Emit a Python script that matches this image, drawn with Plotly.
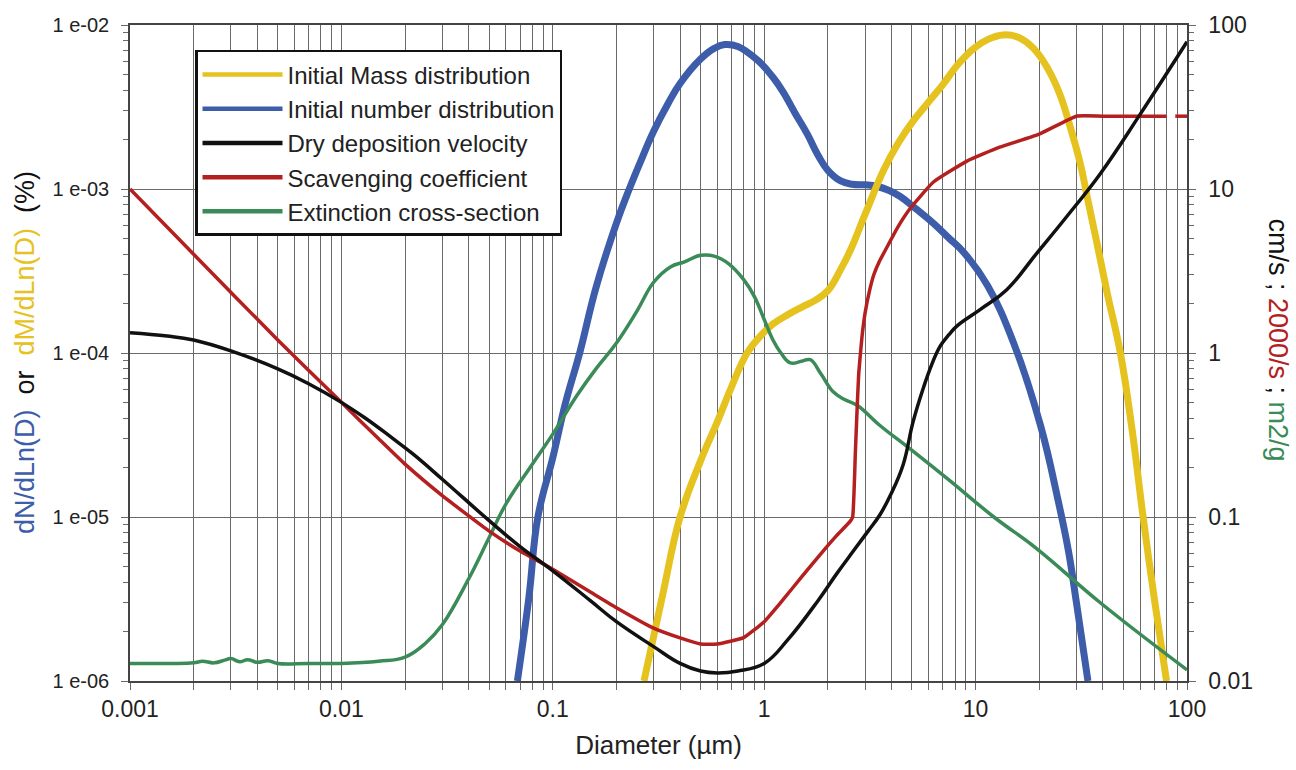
import plotly.graph_objects as go

# ---------------- data ----------------
# Left axis: dN/dLn(D), dM/dLn(D) (%)
num_x = [0.068, 0.077, 0.085, 0.1, 0.115, 0.134, 0.16, 0.2, 0.23, 0.26, 0.3, 0.35, 0.4, 0.5, 0.58, 0.65, 0.75,
         0.93, 1.1, 1.23, 1.4, 1.6, 1.8, 2.0, 2.3, 2.6, 3.0, 3.4, 3.9, 4.4, 5.2, 6.3, 7.5, 8.8, 11.4,
         15.1, 20.3, 24.6, 27.5, 30.0, 34.0]
num_y = [1e-6, 3.2e-6, 1e-5, 2.3e-5, 5e-5, 1e-4, 2.5e-4, 6.2e-4, 1.0e-3, 1.47e-3, 2.25e-3, 3.3e-3, 4.4e-3, 6.2e-3, 7.2e-3, 7.6e-3, 7.4e-3,
         6.1e-3, 4.8e-3, 3.9e-3, 2.9e-3, 2.16e-3, 1.6e-3, 1.3e-3, 1.12e-3, 1.07e-3, 1.06e-3, 1.04e-3, 9.8e-4, 9.0e-4, 7.6e-4, 6.2e-4, 5.0e-4, 4.1e-4, 2.57e-4,
         1.16e-4, 3.6e-5, 1.25e-5, 6.2e-6, 3.0e-6, 1e-6]

mass_x = [0.27, 0.33, 0.4, 0.5, 0.6, 0.7, 0.83, 0.95, 1.1, 1.3, 1.5, 1.75, 2.0, 2.29, 2.55, 3.0, 3.67, 4.3, 5.07,
          6.0, 7.0, 8.3, 9.8, 11.5, 13.5, 16.0, 18.8, 22.0, 25.0, 28.0, 31.3, 34.0, 37.6, 42.0, 48.4, 55.0, 62.0, 70.0, 80.0]
mass_y = [1e-6, 3.3e-6, 1e-5, 2.2e-5, 3.8e-5, 6.2e-5, 1e-4, 1.25e-4, 1.5e-4, 1.72e-4, 1.9e-4, 2.1e-4, 2.4e-4, 3.2e-4, 4.2e-4, 7.0e-4, 1.3e-3, 1.9e-3, 2.6e-3,
          3.4e-3, 4.33e-3, 5.8e-3, 7.2e-3, 8.2e-3, 8.7e-3, 8.4e-3, 7.2e-3, 5.4e-3, 3.8e-3, 2.4e-3, 1.42e-3, 8.5e-4, 4.6e-4, 2.3e-4, 1e-4, 3.4e-5, 1e-5, 3.2e-6, 1e-6]

# Right axis: cm/s ; 2000/s ; m2/g
dep_x = [0.001, 0.0015, 0.002, 0.003, 0.005, 0.007, 0.01, 0.013, 0.017, 0.022, 0.03, 0.05, 0.07, 0.1, 0.15, 0.2, 0.3,
         0.4, 0.5, 0.6, 0.75, 1.0, 1.3, 1.8, 2.2, 2.64, 3.1, 3.54, 4.0, 4.55, 5.06, 5.68, 6.2, 6.8, 7.5, 8.2, 10.5,
         14.0, 19.5, 27.0, 38.9, 60.0, 100.0]
dep_y = [1.33, 1.27, 1.2, 1.03, 0.8, 0.65, 0.5, 0.4, 0.31, 0.24, 0.17, 0.095, 0.066, 0.047, 0.031, 0.023, 0.0162,
         0.0128, 0.0115, 0.0112, 0.0115, 0.0128, 0.018, 0.031, 0.045, 0.062, 0.082, 0.104, 0.14, 0.21, 0.38, 0.62, 0.85, 1.1, 1.3, 1.47, 1.84,
         2.42, 4.07, 6.8, 12.4, 28.5, 79.0]

scav_x = [0.001, 0.002, 0.005, 0.01, 0.015, 0.02, 0.03, 0.05, 0.07, 0.1, 0.15, 0.2, 0.3, 0.4, 0.5, 0.6, 0.8,
          1.0, 1.22, 1.5, 1.9, 2.2, 2.55, 2.62, 2.7, 2.75, 2.8, 2.9, 3.0, 3.15, 3.3, 3.5, 3.8, 4.3, 4.9, 6.3, 9.1, 13.0, 20.0, 30.0,
          40.0, 80.0, None, 88.0, 100.0]
scav_y = [10.0, 4.0, 1.2, 0.5, 0.3, 0.21, 0.135, 0.082, 0.062, 0.048, 0.035, 0.028, 0.021, 0.0183, 0.0168, 0.0168, 0.0184,
          0.023, 0.031, 0.043, 0.062, 0.077, 0.094, 0.1, 0.25, 0.45, 0.75, 1.25, 1.75, 2.4, 3.0, 3.6, 4.4, 5.9, 7.6, 11.0, 14.8, 18.0, 21.6, 27.8,
          27.8, 27.8, None, 27.8, 27.8]

ext_x = [0.001, 0.0015, 0.002, 0.0022, 0.0025, 0.0028, 0.003, 0.0033, 0.0036, 0.004, 0.0045, 0.005, 0.007, 0.01,
         0.015, 0.02, 0.025, 0.03, 0.04, 0.05, 0.06, 0.08, 0.1, 0.13, 0.16, 0.2, 0.25, 0.3, 0.36, 0.42, 0.5, 0.58,
         0.68, 0.8, 0.9, 1.0, 1.1, 1.2, 1.33, 1.5, 1.65, 1.85, 2.12, 2.4, 2.75, 3.54, 4.9, 7.4, 12.2, 19.5, 38.9, 100.0]
ext_y = [0.0128, 0.0128, 0.0129, 0.0132, 0.0129, 0.0134, 0.0137, 0.0131, 0.0135, 0.013, 0.0133, 0.0128, 0.0128, 0.0128,
         0.0132, 0.014, 0.017, 0.022, 0.042, 0.075, 0.12, 0.21, 0.32, 0.55, 0.8, 1.15, 1.8, 2.7, 3.35, 3.6, 3.94, 3.9,
         3.5, 2.8, 2.2, 1.6, 1.2, 1.0, 0.87, 0.89, 0.91, 0.75, 0.58, 0.52, 0.48, 0.36, 0.26, 0.17, 0.1, 0.064, 0.03, 0.0117]

x_tickvals = [0.001, 0.01, 0.1, 1, 10, 100]
x_ticktext = ["0.001", "0.01", "0.1", "1", "10", "100"]
yl_tickvals = [1e-6, 1e-5, 1e-4, 1e-3, 1e-2]
yl_ticktext = ["1 e-06", "1 e-05", "1 e-04", "1 e-03", "1 e-02"]
yr_tickvals = [0.01, 0.1, 1, 10, 100]
yr_ticktext = ["0.01", "0.1", "1", "10", "100"]

# ---------------- styling ----------------
YELLOW = "#E5C21E"
BLUE = "#3D5DAA"
BLACK = "#111111"
RED = "#B3201F"
GREEN = "#3A8B58"
GRID = "#6A6A6A"
FONT = "Liberation Sans, Arial, sans-serif"

fig = go.Figure()
fig.add_trace(go.Scatter(x=ext_x, y=ext_y, yaxis="y2", mode="lines", showlegend=False,
                         line=dict(color=GREEN, width=3.5, shape="spline", smoothing=1.2)))
fig.add_trace(go.Scatter(x=scav_x, y=scav_y, yaxis="y2", mode="lines", showlegend=False,
                         line=dict(color=RED, width=3.5, shape="spline", smoothing=0.4), connectgaps=False))
fig.add_trace(go.Scatter(x=dep_x, y=dep_y, yaxis="y2", mode="lines", showlegend=False,
                         line=dict(color=BLACK, width=3.5, shape="spline", smoothing=1.2)))
fig.add_trace(go.Scatter(x=num_x, y=num_y, mode="lines", showlegend=False,
                         line=dict(color=BLUE, width=7, shape="spline", smoothing=1.2)))
fig.add_trace(go.Scatter(x=mass_x, y=mass_y, mode="lines", showlegend=False,
                         line=dict(color=YELLOW, width=7, shape="spline", smoothing=1.2)))

# legend entries (uniform sample thickness, as in the reference legend)
legend_names = ["Initial Mass distribution", "Initial number distribution", "Dry deposition velocity",
                "Scavenging coefficient", "Extinction cross-section"]
legend_colors = [YELLOW, BLUE, BLACK, RED, GREEN]
for rank, (nm, col) in enumerate(zip(legend_names, legend_colors)):
    fig.add_trace(go.Scatter(x=[None], y=[None], mode="lines", name=nm,
                             line=dict(color=col, width=4.5), legendrank=rank + 1))

fig.update_layout(
    width=1296, height=770,
    margin=dict(l=130, r=109, t=20, b=89),
    paper_bgcolor="white", plot_bgcolor="white",
    font=dict(family=FONT, color="#222222"),
    showlegend=True,
    legend=dict(x=0.0615, y=0.962, xanchor="left", yanchor="top",
                bgcolor="white", bordercolor="#111111", borderwidth=2.5,
                font=dict(size=24, family=FONT, color="#222222"),
                itemwidth=80, tracegroupgap=0),
    xaxis=dict(type="log", range=[-3, 2], tickvals=x_tickvals, ticktext=x_ticktext,
               tickfont=dict(size=23), showgrid=True, gridcolor=GRID, gridwidth=1.3,
               ticks="outside", ticklen=7, tickcolor=GRID, tickwidth=1.3,
               minor=dict(dtick="D1", showgrid=True, gridcolor=GRID, gridwidth=1.3,
                          ticks="outside", ticklen=7, tickcolor=GRID, tickwidth=1.3),
               showline=True, linecolor="#444444", linewidth=1.5, mirror=True, zeroline=False,
               title=dict(text="Diameter (µm)", font=dict(size=26), standoff=14)),
    yaxis=dict(type="log", range=[-6, -2], tickvals=yl_tickvals, ticktext=yl_ticktext,
               tickfont=dict(size=20), showgrid=True, gridcolor=GRID, gridwidth=1.3,
               ticks="outside", ticklen=7, tickcolor=GRID, tickwidth=1.3, ticklabelstandoff=8,
               minor=dict(dtick="D1", showgrid=False, ticks="outside", ticklen=5,
                          tickcolor=GRID, tickwidth=1.3),
               showline=True, linecolor="#444444", linewidth=1.5, zeroline=False),
    yaxis2=dict(type="log", range=[-2, 2], overlaying="y", side="right",
                tickvals=yr_tickvals, ticktext=yr_ticktext, tickfont=dict(size=23),
                showgrid=False, ticks="outside", ticklen=7, tickcolor=GRID, tickwidth=1.3,
                ticklabelstandoff=8,
                minor=dict(dtick="D1", showgrid=False, ticks="outside", ticklen=5,
                           tickcolor=GRID, tickwidth=1.3),
                showline=True, linecolor="#444444", linewidth=1.5, zeroline=False),
)

left_title = (f'<span style="color:{BLUE}">dN/dLn(D)</span>  or  '
              f'<span style="color:{YELLOW}">dM/dLn(D)</span>  (%)')
right_title = (f'cm/s ; <span style="color:{RED}">2000/s</span> ; '
               f'<span style="color:{GREEN}">m2/g</span>')
fig.add_annotation(text=left_title, xref="paper", yref="paper", x=-0.0993, y=0.5,
                   xanchor="center", yanchor="middle", textangle=-90, showarrow=False,
                   font=dict(size=27, family=FONT, color="#111111"))
fig.add_annotation(text=right_title, xref="paper", yref="paper", x=1.0865, y=0.52,
                   xanchor="center", yanchor="middle", textangle=90, showarrow=False,
                   font=dict(size=27, family=FONT, color="#111111"))

fig.write_html("out.html")
